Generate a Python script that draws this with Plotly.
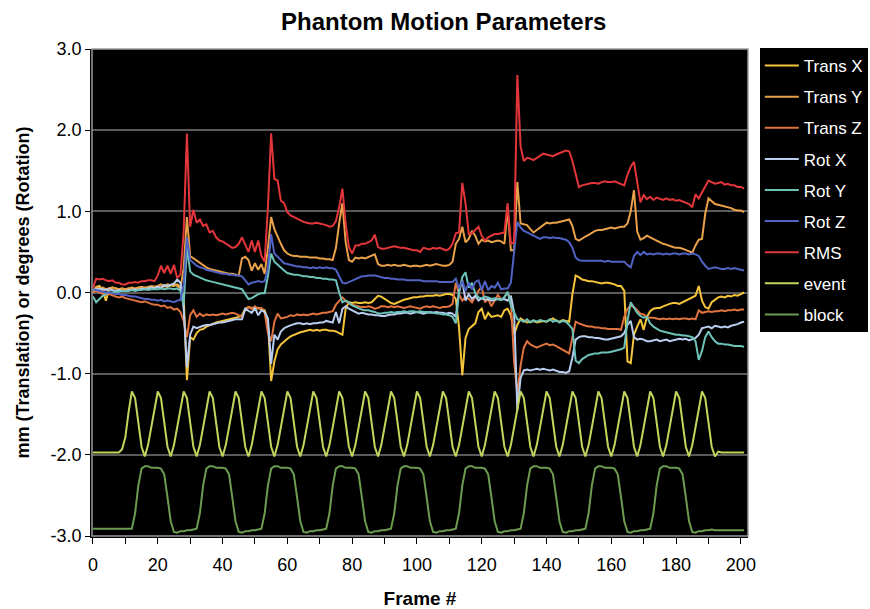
import plotly.graph_objects as go

frames = list(range(202))

trans_x = [
    0.00, 0.07, 0.08, 0.02, -0.10, 0.05, 0.06, 0.05, 0.04, 0.05,
    0.04, 0.05, 0.05, 0.04, 0.06, 0.05, 0.06, 0.05, 0.07, 0.06,
    0.07, 0.06, 0.08, 0.07, 0.09, 0.08, 0.10, 0.06, -0.05, -1.08,
    -0.55, -0.58, -0.50, -0.46, -0.45, -0.42, -0.40, -0.38, -0.37, -0.36,
    -0.35, -0.34, -0.33, -0.32, -0.31, -0.30, -0.28, -0.20, -0.18, -0.19,
    -0.20, -0.19, -0.21, -0.22, -0.35, -1.09, -0.85, -0.70, -0.64, -0.60,
    -0.57, -0.54, -0.52, -0.51, -0.49, -0.48, -0.47, -0.46, -0.47, -0.46,
    -0.47, -0.46, -0.46, -0.47, -0.47, -0.48, -0.50, -0.52, -0.20, -0.12,
    -0.13, -0.12, -0.13, -0.13, -0.12, -0.13, -0.12, -0.08, -0.04, -0.05,
    -0.08, -0.10, -0.13, -0.14, -0.12, -0.10, -0.09, -0.08, -0.07, -0.06,
    -0.06, -0.05, -0.05, -0.04, -0.04, -0.04, -0.03, -0.04, -0.03, -0.02,
    -0.02, -0.03, -0.08, -0.43, -1.02, -0.56, -0.45, -0.42, -0.38, -0.24,
    -0.20, -0.33, -0.25, -0.30, -0.29, -0.28, -0.30, -0.22, -0.20, -0.28,
    -0.52, -0.40, -0.32, -0.35, -0.37, -0.36, -0.35, -0.37, -0.36, -0.35,
    -0.36, -0.34, -0.32, -0.35, -0.36, -0.34, -0.35, -0.36, -0.02, 0.21,
    0.19, 0.16, 0.15, 0.14, 0.14, 0.13, 0.12, 0.11, 0.12, 0.12,
    0.11, 0.10, 0.08, 0.08, 0.02, -0.85, -0.87, -0.52, -0.42, -0.33,
    -0.46, -0.30, -0.23, -0.20, -0.19, -0.19, -0.17, -0.15, -0.14, -0.13,
    -0.13, -0.14, -0.12, -0.11, -0.09, -0.06, -0.04, 0.08, -0.10, -0.18,
    -0.20, -0.12, -0.09, -0.06, -0.05, -0.06, -0.04, -0.05, -0.03, -0.04,
    -0.02, 0.00,
]

trans_y = [
    0.03, 0.06, 0.05, 0.06, 0.04, 0.05, 0.06, 0.05, 0.04, 0.05,
    0.04, 0.05, 0.06, 0.05, 0.06, 0.07, 0.06, 0.07, 0.08, 0.07,
    0.08, 0.10, 0.08, 0.10, 0.09, 0.11, 0.08, 0.05, 0.30, 0.93,
    0.45, 0.42, 0.40, 0.36, 0.33, 0.31, 0.29, 0.28, 0.27, 0.26,
    0.25, 0.24, 0.23, 0.23, 0.22, 0.21, 0.42, 0.44, 0.40, 0.27,
    0.36, 0.28, 0.35, 0.23, 0.55, 0.93, 0.78, 0.68, 0.60, 0.52,
    0.48, 0.46, 0.45, 0.45, 0.44, 0.44, 0.44, 0.43, 0.43, 0.43,
    0.42, 0.42, 0.41, 0.41, 0.40, 0.55, 0.85, 1.10, 0.62, 0.40,
    0.38, 0.43, 0.42, 0.43, 0.42, 0.44, 0.45, 0.47, 0.35, 0.33,
    0.33, 0.34, 0.33, 0.34, 0.33, 0.33, 0.34, 0.33, 0.32, 0.33,
    0.33, 0.32, 0.33, 0.34, 0.33, 0.34, 0.35, 0.34, 0.33, 0.33,
    0.34, 0.38, 0.60, 0.66, 0.81, 0.62, 0.66, 0.76, 0.70, 0.60,
    0.65, 0.63, 0.64, 0.62, 0.63, 0.64, 0.63, 0.60, 1.03, 0.52,
    0.52, 1.36, 0.85, 0.84, 0.83, 0.78, 0.74, 0.77, 0.80, 0.84,
    0.86, 0.85, 0.86, 0.86, 0.87, 0.88, 0.89, 0.90, 0.82, 0.66,
    0.64, 0.67, 0.69, 0.71, 0.74, 0.76, 0.77, 0.77, 0.78, 0.79,
    0.80, 0.79, 0.80, 0.81, 0.81, 0.85, 1.00, 1.26, 0.75, 0.65,
    0.67, 0.70, 0.68, 0.66, 0.63, 0.61, 0.60, 0.59, 0.57, 0.56,
    0.55, 0.55, 0.54, 0.52, 0.51, 0.49, 0.58, 0.65, 0.66, 0.97,
    1.16, 1.12, 1.09, 1.08, 1.07, 1.06, 1.05, 1.04, 1.02, 1.01,
    1.01, 0.99,
]

trans_z = [
    0.00, 0.02, 0.00, -0.02, -0.03, -0.02, -0.04, -0.05, -0.06, -0.05,
    -0.07, -0.08, -0.09, -0.10, -0.11, -0.12, -0.11, -0.13, -0.14, -0.15,
    -0.15, -0.17, -0.16, -0.19, -0.18, -0.21, -0.20, -0.24, -0.35, -0.55,
    -0.28, -0.22, -0.30, -0.26, -0.29, -0.27, -0.28, -0.27, -0.28, -0.27,
    -0.26, -0.27, -0.26, -0.25, -0.26, -0.28, -0.30, -0.22, -0.18, -0.20,
    -0.17, -0.20, -0.19, -0.25, -0.50, -0.60, -0.36, -0.26, -0.32, -0.31,
    -0.30, -0.28, -0.29, -0.27, -0.28, -0.27, -0.28, -0.27, -0.26, -0.27,
    -0.26, -0.25, -0.25, -0.24, -0.23, -0.15, -0.10, -0.06, -0.10, -0.14,
    -0.15, -0.16, -0.17, -0.18, -0.18, -0.17, -0.18, -0.20, -0.19, -0.17,
    -0.17, -0.18, -0.17, -0.18, -0.17, -0.18, -0.19, -0.18, -0.17, -0.18,
    -0.19, -0.20, -0.18, -0.17, -0.18, -0.17, -0.18, -0.19, -0.18, -0.18,
    -0.17, -0.14, 0.12, -0.02, -0.10, -0.05, -0.08, -0.12, -0.05, 0.02,
    0.07, -0.12, -0.08, -0.17, -0.10, -0.03, -0.09, -0.06, 0.00, -0.10,
    -0.85, -1.25, -0.90, -0.68, -0.60, -0.64, -0.66, -0.68, -0.66, -0.64,
    -0.63, -0.65, -0.64, -0.66, -0.68, -0.70, -0.72, -0.75, -0.55, -0.36,
    -0.38, -0.40, -0.41, -0.42, -0.42, -0.43, -0.43, -0.44, -0.44, -0.45,
    -0.45, -0.45, -0.45, -0.46, -0.30, -0.20, -0.16, -0.18, -0.22, -0.26,
    -0.27, -0.30, -0.31, -0.31, -0.32, -0.33, -0.32, -0.33, -0.32, -0.33,
    -0.32, -0.33, -0.32, -0.32, -0.33, -0.32, -0.33, -0.22, -0.25, -0.24,
    -0.23, -0.24, -0.23, -0.23, -0.22, -0.23, -0.22, -0.22, -0.21, -0.22,
    -0.21, -0.21,
]

rot_x = [
    0.03, 0.04, 0.05, 0.04, 0.03, 0.04, 0.03, 0.02, 0.03, 0.02,
    0.02, 0.03, 0.03, 0.04, 0.03, 0.05, 0.04, 0.05, 0.06, 0.05,
    0.07, 0.06, 0.09, 0.08, 0.10, 0.11, 0.16, 0.12, -0.20, -0.92,
    -0.52, -0.42, -0.44, -0.42, -0.41, -0.40, -0.40, -0.39, -0.38, -0.37,
    -0.37, -0.36, -0.35, -0.34, -0.33, -0.33, -0.33, -0.20, -0.23, -0.25,
    -0.19, -0.28, -0.22, -0.24, -0.32, -0.88, -0.52, -0.58, -0.48, -0.44,
    -0.42, -0.40, -0.39, -0.38, -0.38, -0.39, -0.38, -0.39, -0.38, -0.38,
    -0.37, -0.37, -0.35, -0.36, -0.37, -0.24, -0.38, -0.20, -0.17, -0.20,
    -0.22, -0.25, -0.26, -0.25, -0.26, -0.27, -0.27, -0.28, -0.28, -0.29,
    -0.29, -0.28, -0.27, -0.27, -0.26, -0.26, -0.25, -0.25, -0.26, -0.25,
    -0.24, -0.25, -0.26, -0.25, -0.24, -0.25, -0.24, -0.25, -0.25, -0.26,
    -0.25, -0.26, -0.30, 0.02, 0.15, -0.10, -0.02, -0.08, -0.04, -0.10,
    -0.07, -0.09, -0.08, -0.10, -0.09, -0.08, -0.09, -0.08, -0.10, -0.04,
    -0.25, -1.45, -1.05, -0.96, -0.95, -0.96, -0.95, -0.94, -0.95, -0.94,
    -0.95, -0.96, -0.95, -0.97, -0.98, -0.98, -0.99, -0.97, -0.80, -0.58,
    -0.55, -0.54, -0.54, -0.55, -0.55, -0.56, -0.56, -0.57, -0.58, -0.58,
    -0.57, -0.56, -0.55, -0.54, -0.50, -0.40, -0.35, -0.55, -0.58, -0.57,
    -0.58, -0.60, -0.60, -0.59, -0.58, -0.60, -0.59, -0.58, -0.60, -0.59,
    -0.58, -0.57, -0.58, -0.57, -0.59, -0.57, -0.56, -0.52, -0.44, -0.43,
    -0.42, -0.44, -0.41, -0.42, -0.43, -0.42, -0.43, -0.41, -0.40, -0.39,
    -0.37, -0.36,
]

rot_y = [
    -0.05, -0.12, -0.08, -0.04, -0.02, 0.00, 0.00, 0.01, 0.01, 0.02,
    0.02, 0.02, 0.03, 0.02, 0.03, 0.03, 0.04, 0.03, 0.04, 0.04,
    0.04, 0.05, 0.04, 0.05, 0.05, 0.04, 0.05, 0.02, -0.15, 0.55,
    0.26, 0.22, 0.20, 0.18, 0.16, 0.15, 0.14, 0.13, 0.12, 0.11,
    0.10, 0.09, 0.08, 0.07, 0.06, 0.05, 0.04, -0.02, -0.08, -0.07,
    -0.04, -0.02, -0.01, -0.01, 0.20, 0.48, 0.38, 0.34, 0.30, 0.27,
    0.24, 0.23, 0.22, 0.22, 0.21, 0.20, 0.20, 0.19, 0.19, 0.18,
    0.18, 0.17, 0.17, 0.16, 0.16, 0.15, 0.00, -0.12, -0.10, -0.12,
    -0.16, -0.18, -0.20, -0.21, -0.22, -0.22, -0.23, -0.24, -0.26, -0.26,
    -0.25, -0.25, -0.24, -0.25, -0.24, -0.24, -0.23, -0.24, -0.23, -0.23,
    -0.24, -0.23, -0.24, -0.24, -0.25, -0.25, -0.26, -0.26, -0.27, -0.27,
    -0.28, -0.30, -0.38, 0.00, 0.19, 0.25, 0.06, 0.12, -0.01, -0.06,
    -0.07, -0.05, -0.06, -0.08, -0.07, -0.08, -0.09, -0.06, 0.01, -0.16,
    -0.25, -0.33, -0.34, -0.36, -0.33, -0.37, -0.34, -0.36, -0.34, -0.35,
    -0.36, -0.33, -0.36, -0.34, -0.37, -0.35, -0.36, -0.40, -0.45, -0.84,
    -0.87, -0.82, -0.79, -0.77, -0.76, -0.75, -0.75, -0.74, -0.74, -0.74,
    -0.73, -0.72, -0.71, -0.70, -0.68, -0.35, -0.12, -0.18, -0.25, -0.29,
    -0.31, -0.30, -0.38, -0.42, -0.45, -0.47, -0.48, -0.49, -0.50, -0.51,
    -0.52, -0.52, -0.53, -0.53, -0.54, -0.55, -0.60, -0.83, -0.72, -0.55,
    -0.48, -0.55, -0.60, -0.63, -0.63, -0.64, -0.64, -0.65, -0.66, -0.66,
    -0.66, -0.67,
]

rot_z = [
    0.04, 0.03, 0.02, 0.01, 0.00, 0.00, -0.01, -0.02, -0.02, -0.03,
    -0.03, -0.04, -0.05, -0.05, -0.06, -0.07, -0.08, -0.08, -0.09, -0.09,
    -0.10, -0.09, -0.11, -0.10, -0.11, -0.12, -0.10, -0.09, 0.10, 0.68,
    0.40, 0.36, 0.33, 0.31, 0.30, 0.28, 0.27, 0.26, 0.25, 0.24,
    0.23, 0.23, 0.22, 0.22, 0.21, 0.21, 0.20, 0.15, 0.10, 0.12,
    0.13, 0.14, 0.13, 0.14, 0.30, 0.72, 0.48, 0.44, 0.40, 0.36,
    0.35, 0.34, 0.33, 0.32, 0.32, 0.31, 0.31, 0.30, 0.31, 0.30,
    0.31, 0.30, 0.31, 0.30, 0.30, 0.28, 0.20, 0.12, 0.11, 0.13,
    0.15, 0.17, 0.19, 0.20, 0.20, 0.21, 0.21, 0.21, 0.20, 0.19,
    0.18, 0.18, 0.17, 0.17, 0.16, 0.16, 0.16, 0.15, 0.15, 0.15,
    0.15, 0.15, 0.14, 0.14, 0.14, 0.14, 0.14, 0.13, 0.13, 0.13,
    0.13, 0.13, 0.17, 0.05, 0.14, 0.02, 0.12, 0.04, 0.13, 0.15,
    0.03, 0.14, 0.03, 0.08, 0.06, 0.12, 0.04, 0.05, 0.05, 0.12,
    0.50, 0.87, 0.80, 0.76, 0.74, 0.72, 0.70, 0.67, 0.66, 0.68,
    0.68, 0.67, 0.68, 0.67, 0.67, 0.66, 0.65, 0.62, 0.55, 0.43,
    0.40, 0.39, 0.39, 0.39, 0.39, 0.39, 0.39, 0.39, 0.38, 0.39,
    0.38, 0.38, 0.38, 0.38, 0.38, 0.34, 0.31, 0.45, 0.50, 0.46,
    0.50, 0.47, 0.48, 0.47, 0.48, 0.48, 0.47, 0.48, 0.47, 0.48,
    0.48, 0.47, 0.48, 0.48, 0.47, 0.48, 0.47, 0.45, 0.38, 0.33,
    0.29, 0.30, 0.31, 0.30, 0.29, 0.29, 0.30, 0.29, 0.30, 0.29,
    0.28, 0.27,
]

rms = [
    0.06, 0.17, 0.16, 0.17, 0.15, 0.14, 0.15, 0.12, 0.12, 0.10,
    0.10, 0.12, 0.12, 0.13, 0.12, 0.14, 0.14, 0.15, 0.15, 0.14,
    0.21, 0.33, 0.24, 0.33, 0.23, 0.34, 0.18, 0.22, 0.75, 1.96,
    0.81, 1.02, 0.86, 0.90, 0.82, 0.84, 0.74, 0.76, 0.68, 0.64,
    0.63, 0.60, 0.58, 0.55, 0.56, 0.60, 0.68, 0.60, 0.50, 0.64,
    0.50, 0.64, 0.45, 0.38, 1.05, 1.96, 1.40, 1.38, 1.13, 1.10,
    0.99, 0.95, 0.93, 0.90, 0.89, 0.87, 0.86, 0.85, 0.85, 0.86,
    0.85, 0.84, 0.83, 0.81, 0.82, 0.88, 1.05, 1.28, 0.85, 0.56,
    0.48, 0.58, 0.58, 0.60, 0.60, 0.62, 0.64, 0.71, 0.56, 0.54,
    0.54, 0.55, 0.56, 0.57, 0.56, 0.55, 0.55, 0.54, 0.53, 0.52,
    0.52, 0.50, 0.55, 0.54, 0.53, 0.55, 0.54, 0.55, 0.53, 0.52,
    0.54, 0.60, 0.73, 0.74, 1.35, 1.10, 0.72, 0.73, 0.77, 0.81,
    0.70, 0.64, 0.68, 0.70, 0.72, 0.72, 0.73, 0.74, 1.10, 0.60,
    0.62, 2.68, 1.80, 1.62, 1.66, 1.65, 1.63, 1.66, 1.69, 1.71,
    1.70, 1.69, 1.68, 1.70, 1.72, 1.73, 1.75, 1.74, 1.62, 1.46,
    1.30, 1.32, 1.33, 1.34, 1.35, 1.35, 1.34, 1.36, 1.37, 1.36,
    1.36, 1.37, 1.35, 1.33, 1.32, 1.45, 1.55, 1.61, 1.35, 1.11,
    1.20, 1.15, 1.18, 1.14, 1.17, 1.15, 1.14, 1.16, 1.14, 1.15,
    1.13, 1.14, 1.12, 1.11, 1.09, 1.05, 1.21, 1.16, 1.24, 1.32,
    1.38, 1.36, 1.34, 1.35, 1.36, 1.33, 1.34, 1.32, 1.32, 1.30,
    1.30, 1.28,
]

event = [
    -1.97, -1.97, -1.97, -1.97, -1.97, -1.97, -1.97, -1.97, -1.97,
    -1.93, -1.78, -1.47,
    -1.22, -1.30, -1.58, -1.90, -2.02, -1.88, -1.66, -1.43,
    -1.22, -1.30, -1.58, -1.90, -2.02, -1.88, -1.66, -1.43,
    -1.22, -1.30, -1.58, -1.90, -2.02, -1.88, -1.66, -1.43,
    -1.22, -1.30, -1.58, -1.90, -2.02, -1.88, -1.66, -1.43,
    -1.22, -1.30, -1.58, -1.90, -2.02, -1.88, -1.66, -1.43,
    -1.22, -1.30, -1.58, -1.90, -2.02, -1.88, -1.66, -1.43,
    -1.22, -1.30, -1.58, -1.90, -2.02, -1.88, -1.66, -1.43,
    -1.22, -1.30, -1.58, -1.90, -2.02, -1.88, -1.66, -1.43,
    -1.22, -1.30, -1.58, -1.90, -2.02, -1.88, -1.66, -1.43,
    -1.22, -1.30, -1.58, -1.90, -2.02, -1.88, -1.66, -1.43,
    -1.22, -1.30, -1.58, -1.90, -2.02, -1.88, -1.66, -1.43,
    -1.22, -1.30, -1.58, -1.90, -2.02, -1.88, -1.66, -1.43,
    -1.22, -1.30, -1.58, -1.90, -2.02, -1.88, -1.66, -1.43,
    -1.22, -1.30, -1.58, -1.90, -2.02, -1.88, -1.66, -1.43,
    -1.22, -1.30, -1.58, -1.90, -2.02, -1.88, -1.66, -1.43,
    -1.22, -1.30, -1.58, -1.90, -2.02, -1.88, -1.66, -1.43,
    -1.22, -1.30, -1.58, -1.90, -2.02, -1.88, -1.66, -1.43,
    -1.22, -1.30, -1.58, -1.90, -2.02, -1.88, -1.66, -1.43,
    -1.22, -1.30, -1.58, -1.90, -2.02, -1.88, -1.66, -1.43,
    -1.22, -1.30, -1.58, -1.90, -2.02, -1.88, -1.66, -1.43,
    -1.22, -1.30, -1.58, -1.90, -2.02, -1.88, -1.66, -1.43,
    -1.22, -1.30, -1.58, -1.90, -2.02, -1.88, -1.66, -1.43,
    -1.22, -1.30, -1.58, -1.90, -2.02, -1.96,
    -1.97, -1.97, -1.97, -1.97, -1.97, -1.97, -1.97, -1.97,
]

block = [
    -2.91, -2.91, -2.91, -2.91, -2.91, -2.91, -2.91, -2.91, -2.91, -2.91, -2.91, -2.91,
    -2.91, -2.72, -2.38, -2.17, -2.14, -2.14, -2.16, -2.16, -2.16, -2.17,
    -2.24, -2.52, -2.82, -2.95, -2.96, -2.94, -2.94, -2.93, -2.93, -2.92,
    -2.91, -2.72, -2.38, -2.17, -2.14, -2.14, -2.16, -2.16, -2.16, -2.17,
    -2.24, -2.52, -2.82, -2.95, -2.96, -2.94, -2.94, -2.93, -2.93, -2.92,
    -2.91, -2.72, -2.38, -2.17, -2.14, -2.14, -2.16, -2.16, -2.16, -2.17,
    -2.24, -2.52, -2.82, -2.95, -2.96, -2.94, -2.94, -2.93, -2.93, -2.92,
    -2.91, -2.72, -2.38, -2.17, -2.14, -2.14, -2.16, -2.16, -2.16, -2.17,
    -2.24, -2.52, -2.82, -2.95, -2.96, -2.94, -2.94, -2.93, -2.93, -2.92,
    -2.91, -2.72, -2.38, -2.17, -2.14, -2.14, -2.16, -2.16, -2.16, -2.17,
    -2.24, -2.52, -2.82, -2.95, -2.96, -2.94, -2.94, -2.93, -2.93, -2.92,
    -2.91, -2.72, -2.38, -2.17, -2.14, -2.14, -2.16, -2.16, -2.16, -2.17,
    -2.24, -2.52, -2.82, -2.95, -2.96, -2.94, -2.94, -2.93, -2.93, -2.92,
    -2.91, -2.72, -2.38, -2.17, -2.14, -2.14, -2.16, -2.16, -2.16, -2.17,
    -2.24, -2.52, -2.82, -2.95, -2.96, -2.94, -2.94, -2.93, -2.93, -2.92,
    -2.91, -2.72, -2.38, -2.17, -2.14, -2.14, -2.16, -2.16, -2.16, -2.17,
    -2.24, -2.52, -2.82, -2.95, -2.96, -2.94, -2.94, -2.93, -2.93, -2.92,
    -2.91, -2.72, -2.38, -2.17, -2.14, -2.14, -2.16, -2.16, -2.16, -2.17,
    -2.24, -2.52, -2.82, -2.95, -2.96, -2.94, -2.94, -2.93, -2.93, -2.92,
    -2.93, -2.93, -2.93, -2.93, -2.93, -2.93, -2.93, -2.93, -2.93, -2.93,
]

series_names = ["Trans X", "Trans Y", "Trans Z", "Rot X", "Rot Y", "Rot Z", "RMS", "event", "block"]
series_values = [trans_x, trans_y, trans_z, rot_x, rot_y, rot_z, rms, event, block]
series_colors = ["#F4C53A", "#E9A14A", "#E0733E", "#B9CDEF", "#6DC3B9", "#5062C2", "#E2363B", "#C3D65B", "#6C9C50"]

x_tick_vals = [0, 20, 40, 60, 80, 100, 120, 140, 160, 180, 200]
x_minor_vals = [10, 30, 50, 70, 90, 110, 130, 150, 170, 190]
y_tick_vals = [-3, -2, -1, 0, 1, 2, 3]
y_tick_text = ["-3.0", "-2.0", "-1.0", "0.0", "1.0", "2.0", "3.0"]

fig = go.Figure()
for i, (name, vals, col) in enumerate(zip(series_names, series_values, series_colors)):
    fig.add_trace(go.Scatter(x=frames[:len(vals)], y=vals, mode="lines", name=name,
                             legendgroup=f"g{i}",
                             line=dict(color=col, width=2)))

fig.update_layout(
    width=870, height=609,
    margin=dict(l=92, r=122, t=49, b=73, autoexpand=False),
    paper_bgcolor="white", plot_bgcolor="black",
    font=dict(family="Liberation Sans, Arial, sans-serif", color="black", size=18),
    title=dict(text="<b>Phantom Motion Parameters</b>", x=0.51, xanchor="center",
               y=0.965, yanchor="middle", font=dict(size=24)),
    showlegend=True,
    legend=dict(x=1.018, y=1.002, xanchor="left", yanchor="top", bgcolor="black",
                font=dict(color="white", size=17), itemwidth=34,
                traceorder="grouped", tracegroupgap=6),
    xaxis=dict(range=[-0.3, 202.2], tickvals=x_tick_vals, ticks="outside", ticklen=6,
               tickcolor="black", tickwidth=1, showline=True, linecolor="black", linewidth=1.5,
               showgrid=False, zeroline=False, ticklabelstandoff=6,
               minor=dict(tickvals=x_minor_vals, ticks="outside", ticklen=6, tickcolor="black"),
               title=dict(text="<b>Frame #</b>", font=dict(size=19), standoff=18)),
    yaxis=dict(range=[-3, 3], tickvals=y_tick_vals, ticktext=y_tick_text, ticks="outside",
               ticklen=5, tickcolor="black", showline=True, linecolor="black", linewidth=1.5,
               showgrid=True, gridcolor="#5a5a5a", gridwidth=1.5, zeroline=False,
               title=dict(text="<b>mm (Translation) or degrees (Rotation)</b>", font=dict(size=18),
                          standoff=16)),
    shapes=[dict(type="rect", xref="paper", yref="paper", x0=0, y0=0, x1=1, y1=1,
                 line=dict(color="#9a9a9a", width=1.5), layer="above")],
)

fig.write_html("out.html")
